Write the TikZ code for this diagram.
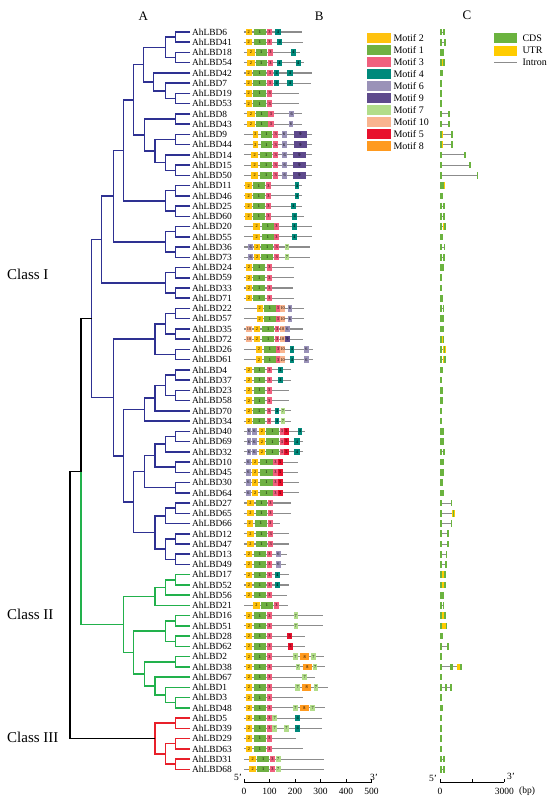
\documentclass[tikz,border=0pt]{standalone}
\usepackage{fontspec}
\setmainfont{Liberation Serif}
\definecolor{m1}{HTML}{6FB043}
\definecolor{m2}{HTML}{FFC20E}
\definecolor{m3}{HTML}{F0607E}
\definecolor{m4}{HTML}{00897B}
\definecolor{m5}{HTML}{E8112D}
\definecolor{m6}{HTML}{9A92B8}
\definecolor{m7}{HTML}{B2DD8A}
\definecolor{m8}{HTML}{FF9A1F}
\definecolor{m9}{HTML}{5E4A8C}
\definecolor{m10}{HTML}{F9B48F}
\definecolor{tblue}{HTML}{2E3192}
\definecolor{tgreen}{HTML}{22B14C}
\definecolor{tred}{HTML}{E8202A}
\definecolor{cdsc}{HTML}{6BB33F}
\definecolor{utrc}{HTML}{FFCC00}
\definecolor{lgrey}{HTML}{8C8C8C}
\newcommand\cld[4]{\draw[tree,#1] (#3) -| (#2) |- (#4);}
\newcommand\gn[3]{%
  \pgfmathsetmacro\yy{32+(#1-1)*10.24}%
  \draw[gline] (244,\yy) -- (#2,\yy);%
  \foreach \a/\b/\m in {#3}{\fill[fill=m\m] (\a,\yy-3.2) rectangle (\b,\yy+3.2);
    \node[mlab] at ({(\a+\b)/2},\yy) {\m};}%
}
\newcommand\ut[2]{\fill[utrc] (#1,\yy-3.3) rectangle (#2,\yy+3.3);}
\newcommand\cd[2]{\fill[cdsc] (#1,\yy-3.3) rectangle (#2,\yy+3.3);}
\newcommand\gs[3]{%
  \pgfmathsetmacro\yy{32+(#1-1)*10.24}%
  \draw[intr] (440,\yy) -- (#2,\yy);%
  #3%
  \fill[cdsc] (440,\yy-3.3) rectangle (441.8,\yy+3.3);%
  \fill[cdsc] (#2-1.8,\yy-3.3) rectangle (#2,\yy+3.3);%
}
\begin{document}
\begin{tikzpicture}[x=1pt,y=-1pt,
  tree/.style={line width=1.5pt,line join=miter},
  glab/.style={anchor=west,inner sep=0pt,font=\fontsize{9.4}{10}\selectfont},
  mlab/.style={inner sep=0pt,font=\fontsize{4.3}{4.5}\selectfont},
  gline/.style={lgrey,line width=1.1pt},
  intr/.style={lgrey,line width=0.9pt},
  leg/.style={anchor=west,inner sep=0pt,font=\fontsize{10}{11}\selectfont},
  ttl/.style={inner sep=0pt,font=\fontsize{13}{14}\selectfont},
  cls/.style={anchor=west,inner sep=0pt,font=\fontsize{15}{16}\selectfont},
  axl/.style={inner sep=0pt,font=\fontsize{9.5}{10}\selectfont}]
\useasboundingbox (0,0) rectangle (550,801);
\fill[white] (0,0) rectangle (550,801);
% titles
\node[ttl] (tA) at (143.3,16) {A};
\node[ttl] (tB) at (319.3,16) {B};
\node[ttl] (tC) at (467,15) {C};
\node[cls] (c1) at (7,274) {Class I};
\node[cls] (c2) at (7,614) {Class II};
\node[cls] (c3) at (7,737) {Class III};
% leaves
\foreach \i in {1,...,73}{\coordinate (L\i) at (190,{32+(\i-1)*10.24});}
\foreach \g [count=\i] in {6,41,18,54,42,7,19,53,8,43,9,44,14,15,50,11,46,25,60,20,55,36,73,24,59,33,71,22,57,35,72,26,61,4,37,23,58,70,34,40,69,32,10,45,30,64,27,65,66,12,47,13,49,17,52,56,21,16,51,28,62,2,38,67,1,3,48,5,39,29,63,31,68}
  {\node[glab] (g\i) at (192,{32+(\i-1)*10.24}) {AhLBD\g};}
% internal nodes
\coordinate (A1) at (175.7,37.1);
\coordinate (A2) at (175.7,57.6);
\coordinate (A3) at (165.7,47.35);
\coordinate (A4) at (175.7,98.55);
\coordinate (A5) at (165.7,90.9);
\coordinate (A6) at (153.3,81.95);
\coordinate (A7) at (143.3,64.65);
\coordinate (A8) at (175.7,119.05);
\coordinate (A9) at (175.7,139.5);
\coordinate (A10) at (175.7,170.25);
\coordinate (A11) at (165.7,162.6);
\coordinate (A12) at (155,151.05);
\coordinate (A13) at (144.3,135.05);
\coordinate (A14) at (133.3,99.85);
\coordinate (A15) at (175.7,190.7);
\coordinate (A16) at (175.7,211.2);
\coordinate (A17) at (165.7,200.95);
\coordinate (A18) at (123.3,150.4);
\coordinate (A19) at (175.7,231.7);
\coordinate (A20) at (175.7,252.15);
\coordinate (A21) at (165.7,241.9);
\coordinate (A22) at (113.3,196.15);
\coordinate (A23) at (175.7,272.65);
\coordinate (A24) at (175.7,293.1);
\coordinate (A25) at (165.7,282.9);
\coordinate (A26) at (101.7,239.5);
\coordinate (A27) at (175.7,313.6);
\coordinate (A28) at (175.7,334.1);
\coordinate (A29) at (165.7,323.85);
\coordinate (A30) at (175.7,354.55);
\coordinate (A31) at (155,339.2);
\coordinate (A32) at (175.7,375.05);
\coordinate (A33) at (175.7,395.5);
\coordinate (A34) at (165.7,385.3);
\coordinate (A35) at (155,398.1);
\coordinate (A36) at (144.3,409.6);
\coordinate (A37) at (175.7,436.5);
\coordinate (A38) at (165.7,444.15);
\coordinate (A39) at (175.7,467.2);
\coordinate (A40) at (155,455.7);
\coordinate (A41) at (175.7,487.7);
\coordinate (A42) at (144.3,471.7);
\coordinate (A43) at (175.7,508.15);
\coordinate (A44) at (165.7,515.8);
\coordinate (A45) at (175.7,538.9);
\coordinate (A46) at (175.7,559.35);
\coordinate (A47) at (165.7,549.1);
\coordinate (A48) at (155,532.45);
\coordinate (A49) at (133.3,502.1);
\coordinate (A50) at (123.3,455.85);
\coordinate (A51) at (113.3,397.5);
\coordinate (A52) at (91.7,318.5);
\coordinate (B1) at (175.7,579.85);
\coordinate (B2) at (165.7,587.5);
\coordinate (B3) at (155,596.45);
\coordinate (B4) at (175.7,620.8);
\coordinate (B5) at (175.7,641.3);
\coordinate (B6) at (165.7,631.05);
\coordinate (B7) at (175.7,661.75);
\coordinate (B8) at (175.7,702.7);
\coordinate (B9) at (165.7,695.05);
\coordinate (B10) at (155,686.1);
\coordinate (B11) at (144.3,673.9);
\coordinate (B12) at (133.3,652.5);
\coordinate (B13) at (123.3,624.5);
\coordinate (C1) at (81,471.5);
\coordinate (R1) at (175.7,723.2);
\coordinate (R2) at (175.7,743.7);
\coordinate (R3) at (175.7,764.15);
\coordinate (R4) at (165.7,753.9);
\coordinate (R5) at (155,738.55);
\coordinate (R0) at (70,605);
% blue clade
\cld{tblue}{A1}{L1}{L2}
\cld{tblue}{A2}{L3}{L4}
\cld{tblue}{A3}{A1}{A2}
\cld{tblue}{A4}{L7}{L8}
\cld{tblue}{A5}{L6}{A4}
\cld{tblue}{A6}{L5}{A5}
\cld{tblue}{A7}{A3}{A6}
\cld{tblue}{A8}{L9}{L10}
\cld{tblue}{A9}{L11}{L12}
\cld{tblue}{A10}{L14}{L15}
\cld{tblue}{A11}{L13}{A10}
\cld{tblue}{A12}{A9}{A11}
\cld{tblue}{A13}{A8}{A12}
\cld{tblue}{A14}{A7}{A13}
\cld{tblue}{A15}{L16}{L17}
\cld{tblue}{A16}{L18}{L19}
\cld{tblue}{A17}{A15}{A16}
\cld{tblue}{A18}{A14}{A17}
\cld{tblue}{A19}{L20}{L21}
\cld{tblue}{A20}{L22}{L23}
\cld{tblue}{A21}{A19}{A20}
\cld{tblue}{A22}{A18}{A21}
\cld{tblue}{A23}{L24}{L25}
\cld{tblue}{A24}{L26}{L27}
\cld{tblue}{A25}{A23}{A24}
\cld{tblue}{A26}{A22}{A25}
\cld{tblue}{A27}{L28}{L29}
\cld{tblue}{A28}{L30}{L31}
\cld{tblue}{A29}{A27}{A28}
\cld{tblue}{A30}{L32}{L33}
\cld{tblue}{A31}{A29}{A30}
\cld{tblue}{A32}{L34}{L35}
\cld{tblue}{A33}{L36}{L37}
\cld{tblue}{A34}{A32}{A33}
\cld{tblue}{A35}{A34}{L38}
\cld{tblue}{A36}{A35}{L39}
\cld{tblue}{A37}{L40}{L41}
\cld{tblue}{A38}{A37}{L42}
\cld{tblue}{A39}{L43}{L44}
\cld{tblue}{A40}{A38}{A39}
\cld{tblue}{A41}{L45}{L46}
\cld{tblue}{A42}{A40}{A41}
\cld{tblue}{A43}{L47}{L48}
\cld{tblue}{A44}{A43}{L49}
\cld{tblue}{A45}{L50}{L51}
\cld{tblue}{A46}{L52}{L53}
\cld{tblue}{A47}{A45}{A46}
\cld{tblue}{A48}{A44}{A47}
\cld{tblue}{A49}{A42}{A48}
\cld{tblue}{A50}{A36}{A49}
\cld{tblue}{A51}{A31}{A50}
\cld{tblue}{A52}{A26}{A51}
% green clade
\cld{tgreen}{B1}{L54}{L55}
\cld{tgreen}{B2}{B1}{L56}
\cld{tgreen}{B3}{B2}{L57}
\cld{tgreen}{B4}{L58}{L59}
\cld{tgreen}{B5}{L60}{L61}
\cld{tgreen}{B6}{B4}{B5}
\cld{tgreen}{B7}{L62}{L63}
\cld{tgreen}{B8}{L66}{L67}
\cld{tgreen}{B9}{L65}{B8}
\cld{tgreen}{B10}{L64}{B9}
\cld{tgreen}{B11}{B7}{B10}
\cld{tgreen}{B12}{B6}{B11}
\cld{tgreen}{B13}{B3}{B12}
% red clade
\cld{tred}{R1}{L68}{L69}
\cld{tred}{R2}{L70}{L71}
\cld{tred}{R3}{L72}{L73}
\cld{tred}{R4}{R2}{R3}
\cld{tred}{R5}{R1}{R4}
% root
\draw[tree,tgreen] (C1) |- (B13);
\draw[tree,black] (A52) -| (C1);
\draw[tree,black] (C1) -| (R0) |- (R5);
% panel B motifs
\gn{1}{301.7}{245.7/251.7/2,254/266/1,267/271.7/3,275.3/280.7/4}
\gn{2}{302.7}{245.7/251.7/2,254/266/1,267/271.7/3,277/282.3/4}
\gn{3}{300}{247/254.7/2,255.7/266.7/1,267.7/273.3/3,290.7/296/4}
\gn{4}{304}{247/254.7/2,255.7/266.7/1,267.7/273.3/3,276.7/282/4,295.7/300.7/4}
\gn{5}{311.7}{245.7/251.7/2,253.3/266/1,267/272.7/3,274/279.3/4,287.3/292.7/4}
\gn{6}{311}{245.7/251.7/2,253.3/266/1,267/272.7/3,274/279.3/4,287.3/292.7/4}
\gn{7}{299.3}{245.7/251.7/2,253.3/266/1,267/272.3/3}
\gn{8}{298.7}{245.7/251.7/2,253.3/266/1,267/272.3/3}
\gn{9}{302.3}{247/254.7/2,255.7/267.7/1,268.3/273.7/3,289.3/294/6}
\gn{10}{302}{247/254.7/2,255.7/267.7/1,268.3/273.7/3,288.7/293.3/6}
\gn{11}{312}{252.7/258.3/2,260.7/272.3/1,273.3/278.3/3,281.7/286.7/6,294.3/306.7/9}
\gn{12}{312}{252.7/258.3/2,260.7/272.3/1,273.3/278.3/3,281.7/286.7/6,294.3/306.7/9}
\gn{13}{312}{251.3/258/2,260/272.3/1,273.3/278.3/3,282/287.3/6,293.3/305.7/9}
\gn{14}{312}{251.3/258/2,260/272.3/1,273.3/278.3/3,282/287.3/6,293.3/305.7/9}
\gn{15}{312}{251.3/258/2,260/272.3/1,273.3/278.3/3,282/287.3/6,293.3/305.7/9}
\gn{16}{301.7}{245.3/252.3/2,253/265/1,266/270.7/3,294.7/299.3/4}
\gn{17}{301.7}{245.3/252.3/2,253/265/1,266/270.7/3,294.7/299.3/4}
\gn{18}{301.7}{245.3/252.3/2,253/265/1,266/270.7/3,291/295.7/4}
\gn{19}{304}{245.3/252.3/2,253/265/1,266/270.7/3,292.3/297.3/4}
\gn{20}{312}{253.3/260/2,262/273.7/1,274.3/278.7/3,292.3/296.7/4}
\gn{21}{312}{253.3/260/2,262/273.7/1,274.3/278.7/3,292.3/296.7/4}
\gn{22}{310}{248/253.3/6,254/260.3/2,261.3/273/1,274/279.3/3,284.7/289.3/7}
\gn{23}{310}{248/253.3/6,254/260.3/2,261.3/273/1,274/279.3/3,284.7/289.3/7}
\gn{24}{294.3}{245.7/252/2,253.3/265/1,266.7/272.3/3}
\gn{25}{294.3}{245.7/252/2,253.3/265/1,266.7/272.3/3}
\gn{26}{292.7}{245.7/252/2,253.3/265/1,266.7/272.3/3}
\gn{27}{293.7}{245.7/252/2,253.3/265/1,266.7/272.3/3}
\gn{28}{303.7}{256.7/262.7/2,264.3/275.7/1,276/280/3,280/285.3/10,287.7/292.3/6}
\gn{29}{303.7}{256.7/262.7/2,264.3/275.7/1,276/280/3,280/285.3/10,287.7/292.3/6}
\gn{30}{302.7}{246/252/10,254/260/2,262.3/274/1,275.3/279.3/3,279.5/284.5/10,285/290/6}
\gn{31}{302.7}{246/252/10,254/260/2,262.3/274/1,275.3/279.3/3,279.5/284.5/10,285/290/9}
\gn{32}{313.3}{256/262/2,264/275.7/1,276.3/280.3/3,280.3/285/10,290/294/4,304/309/6}
\gn{33}{313.3}{256/262/2,264/275.7/1,276.3/280.3/3,280.3/285/10,290/294/4,304/309/6}
\gn{34}{291.3}{245.7/252/2,254/265/1,266.7/272/3,278/282.7/4}
\gn{35}{291.3}{245.7/252/2,254/265/1,266.7/272/3,278/282.7/4}
\gn{36}{289}{245.7/252/2,254/265/1,266.7/271.7/3}
\gn{37}{289}{245.7/252/2,254/265/1,266.7/271.7/3}
\gn{38}{291}{245.7/252/2,253.3/265/1,266.7/271/3,274.7/279.3/4,280.7/285/7}
\gn{39}{291}{245.7/252/2,253.3/265/1,266.7/271/3,274.7/279.3/4,280.7/285/7}
\gn{40}{305}{246.7/251.3/6,252/256.7/6,259/265/2,266/278.7/1,280/284/3,284/289/5,297.7/302.3/4}
\gn{41}{303.3}{246.7/251.3/6,252/256.7/6,259/265/2,266/278.7/1,280/284/3,284/289/5,294.3/299.7/4}
\gn{42}{303.3}{246.7/251.3/6,252/256.7/6,259/265/2,266/278.7/1,280/284/3,284/289/5,294.3/299.7/4}
\gn{43}{298.3}{246/251/6,252/258.3/2,260/272.7/1,273.3/277.7/3,277.7/282.7/5}
\gn{44}{297.7}{246/251/6,252/258.3/2,260/272.7/1,273.3/277.7/3,277.7/282.7/5}
\gn{45}{299.3}{246/251/6,252/258.3/2,260/272.7/1,273.3/277.7/3,277.7/282.7/5}
\gn{46}{299.3}{246/251/6,252/258.3/2,260/272.7/1,273.3/277.7/3,277.7/282.7/5}
\gn{47}{290.7}{247/254/2,255.7/267.3/1,268.3/272.7/3}
\gn{48}{290.7}{247/254/2,255.7/267.3/1,268.3/272.7/3}
\gn{49}{280}{246.7/252.7/2,255/266.7/1,267.7/272.7/3}
\gn{50}{288.7}{247/254/2,255.7/267.3/1,268.3/273.3/3}
\gn{51}{288.7}{247/254/2,255.7/267.3/1,268.3/273.3/3}
\gn{52}{286.7}{245.7/252/2,254/266/1,267/272/3,276/281/6}
\gn{53}{286}{245.7/252/2,254/266/1,267/272/3,276/281/6}
\gn{54}{288.7}{245.7/252/2,254/266/1,267/272/3,275/280/4}
\gn{55}{288.7}{245.7/252/2,254/266/1,267/272/3,275/280/4}
\gn{56}{287.3}{245.7/252/2,254/266/1,267/272/3}
\gn{57}{288.3}{253/259.7/2,261.3/272.7/1,274/278.7/3}
\gn{58}{323.3}{245.7/252/2,254/266/1,267/272/3,293.7/297.7/7}
\gn{59}{323.3}{245.7/252/2,254/266/1,267/272/3,293.7/297.7/7}
\gn{60}{305}{245.7/252/2,254/266/1,267/272/3,287/292.3/5}
\gn{61}{305}{245.7/252/2,254/266/1,267/272/3,287.7/293/5}
\gn{62}{324.3}{245.7/252/2,254/266/1,267/272/3,293.3/297.7/7,300.3/309/8,311/316/7}
\gn{63}{325}{245.7/252/2,254/266/1,267/272/3,295.7/300.3/7,303.3/311.7/8,313/317.3/7}
\gn{64}{315.3}{245.7/252/2,254/266/1,267/272/3,302.3/307/7}
\gn{65}{327.7}{245.7/252/2,254/266/1,267/272/3,295.3/300/7,302.3/311/8,313.7/318.3/7}
\gn{66}{303.3}{245.7/252/2,254/266/1,267/272/3}
\gn{67}{324.7}{245.7/252/2,254/266/1,267/272/3,293.3/297.7/7,299.7/309/8,310/315.3/7}
\gn{68}{321.7}{245.7/252/2,254/266/1,267/272/3,272.3/277/7,295.3/300.3/4}
\gn{69}{321.7}{245.7/252/2,254/266/1,267/272/3,272.3/277/7,284/288.7/7,295.3/300.3/4}
\gn{70}{295.7}{245.7/252/2,254/266/1,267/272/3}
\gn{71}{303.3}{245.7/252/2,254/266/1,267/272/3}
\gn{72}{324.3}{249.3/256/2,257.3/269.3/1,270/275/3,275.7/280.7/7}
\gn{73}{324.3}{249.3/256/2,257.3/269.3/1,270/275/3,275.7/280.7/7}
% axis B
\draw[line width=0.7pt] (244,782) -- (371.5,782);
\foreach \t [count=\k from 0] in {0,100,200,300,400,500}
  {\draw[line width=0.7pt] ({244+\k*25.5},782) -- ({244+\k*25.5},779);
   \node[axl] (bx\k) at ({244+\k*25.5},791) {\t};}
\node[axl] (b5) at (238,777) {5'};
\node[axl] (b3) at (374,777) {3'};
% legend B
\foreach \m/\t [count=\k from 0] in {m2/Motif 2,m1/Motif 1,m3/Motif 3,m4/Motif 4,m6/Motif 6,m9/Motif 9,m7/Motif 7,m10/Motif 10,m5/Motif 5,m8/Motif 8}
  {\fill[fill=\m] (367.3,{32.7+\k*12.05}) rectangle (390.7,{42.7+\k*12.05});
   \node[leg] (lb\k) at (393.3,{37.7+\k*12.05}) {\t};}
% legend C
\fill[cdsc] (494,33.3) rectangle (517.3,43.3);
\node[leg] (lc1) at (522.3,38.3) {CDS};
\fill[utrc] (494,45.5) rectangle (517.3,55.5);
\node[leg] (lc2) at (522.3,50.5) {UTR};
\draw[lgrey,line width=1pt] (494,62.7) -- (516.7,62.7);
\node[leg] (lc3) at (522.3,62.7) {Intron};
% panel C gene structures
\gs{1}{444.5}{}
\gs{2}{446}{\ut{443.5}{446}}
\gs{3}{443.5}{}
\gs{4}{444.5}{\ut{440.5}{443}}
\gs{5}{442.5}{}
\gs{6}{441.8}{}
\gs{7}{441.8}{}
\gs{8}{441.8}{}
\gs{9}{450}{}
\gs{10}{450}{}
\gs{11}{453}{\ut{440}{442.5}}
\gs{12}{453}{\ut{440}{442.5}}
\gs{13}{466}{}
\gs{14}{471}{}
\gs{15}{478.3}{}
\gs{16}{444}{\ut{442}{444.5}}
\gs{17}{443.3}{}
\gs{18}{445}{}
\gs{19}{444.7}{}
\gs{20}{445.7}{\ut{443}{446}}
\gs{21}{443}{}
\gs{22}{445.3}{\ut{440}{442}}
\gs{23}{445}{}
\gs{24}{444}{\ut{440.5}{444}}
\gs{25}{441.5}{}
\gs{26}{441.5}{}
\gs{27}{443}{\ut{440.5}{443}}
\gs{28}{444.3}{}
\gs{29}{443.7}{}
\gs{30}{444}{\ut{440.5}{444}}
\gs{31}{444.3}{\ut{440.5}{444}}
\gs{32}{445.3}{\ut{443}{445.5}}
\gs{33}{446}{\ut{443}{446}}
\gs{34}{442.7}{\ut{440.5}{442.7}}
\gs{35}{442}{}
\gs{36}{443.3}{}
\gs{37}{443.3}{}
\gs{38}{442}{}
\gs{39}{442.3}{}
\gs{40}{444}{}
\gs{41}{444}{}
\gs{42}{445}{\ut{443}{445}}
\gs{43}{444}{}
\gs{44}{444}{}
\gs{45}{443.3}{\ut{441}{443.3}}
\gs{46}{444}{}
\gs{47}{452.3}{}
\gs{48}{454.3}{\ut{452}{454.5}}
\gs{49}{452.3}{}
\gs{50}{449}{\ut{446.5}{449}}
\gs{51}{449}{\ut{440}{442}}
\gs{52}{447.3}{}
\gs{53}{446.7}{}
\gs{54}{446}{\ut{440}{446}}
\gs{55}{445.7}{\ut{440}{445.7}}
\gs{56}{443.7}{\ut{440}{443.7}}
\gs{57}{444.3}{}
\gs{58}{446}{\ut{440}{446}}
\gs{59}{447.3}{\ut{440}{447.3}}
\gs{60}{443.3}{}
\gs{61}{449}{}
\gs{62}{441.7}{}
\gs{63}{462}{\ut{457.3}{462}\cd{450}{453.3}}
\gs{64}{441.3}{}
\gs{65}{451.7}{\cd{445.3}{446.7}}
\gs{66}{441.5}{}
\gs{67}{443.3}{}
\gs{68}{442}{}
\gs{69}{442}{}
\gs{70}{442}{}
\gs{71}{441.5}{}
\gs{72}{444.7}{}
\gs{73}{444.7}{}
% axis C
\draw[line width=0.7pt] (440,782.3) -- (504.3,782.3);
\foreach \k in {0,1,2}{\draw[line width=0.7pt] ({440+\k*32.15},782.3) -- ({440+\k*32.15},779.3);}
\node[axl] (c0) at (440,791) {0};
\node[axl] (c3000) at (504.3,791) {3000};
\node[axl] (cbp) at (527,791) {(bp)};
\node[axl] (c5) at (433,778) {5'};
\node[axl] (c3p) at (511,776) {3'};
\end{tikzpicture}
\end{document}
